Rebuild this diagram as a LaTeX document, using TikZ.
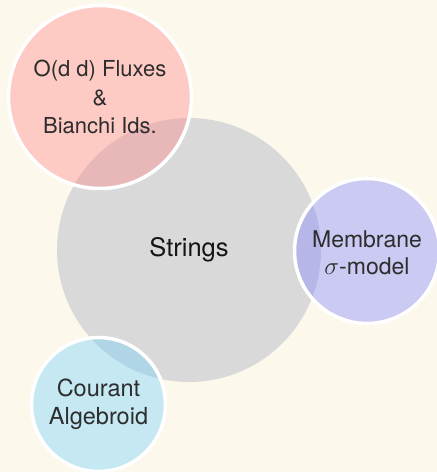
\documentclass[tikz,border=0pt]{standalone}
\usepackage{fontspec}
\setmainfont{TeX Gyre Heros}
\definecolor{paper}{RGB}{253,248,236}
\definecolor{core}{RGB}{217,217,217}
\definecolor{fluxred}{RGB}{255,133,136}
\definecolor{membpurple}{RGB}{130,133,255}
\definecolor{courcyan}{RGB}{113,208,251}
\definecolor{ink}{RGB}{45,45,45}
\begin{document}
\begin{tikzpicture}[x=1pt,y=1pt,
  hub/.style={circle, fill=core, minimum size=264pt, inner sep=0pt,
    font=\fontsize{25.5}{30}\selectfont, text=black!92},
  satellite/.style={circle, draw=white, line width=3.5pt, fill opacity=0.4,
    text opacity=1, inner sep=0pt, align=center, text=ink}]
  % page
  \fill[paper] (0,0) rectangle (437,472);
  \useasboundingbox (0,0) rectangle (437,472);
  % central topic
  \node[hub] (strings) at (189,222) {Strings};
  % surrounding topics
  \node[satellite, fill=fluxred, minimum size=183pt,
    font=\fontsize{22}{28.5}\selectfont] (flux) at (100,375)
    {O(d d) Fluxes\\\&\\Bianchi Ids.};
  \node[satellite, fill=membpurple, minimum size=145pt,
    font=\fontsize{23}{27}\selectfont] (memb) at (367,221)
    {\rule{0pt}{20pt}Membrane\\$\sigma$-model};
  \node[satellite, fill=courcyan, minimum size=134pt,
    font=\fontsize{23.5}{28}\selectfont] (cour) at (98.5,67.5)
    {Courant\\Algebroid};
\end{tikzpicture}
\end{document}
